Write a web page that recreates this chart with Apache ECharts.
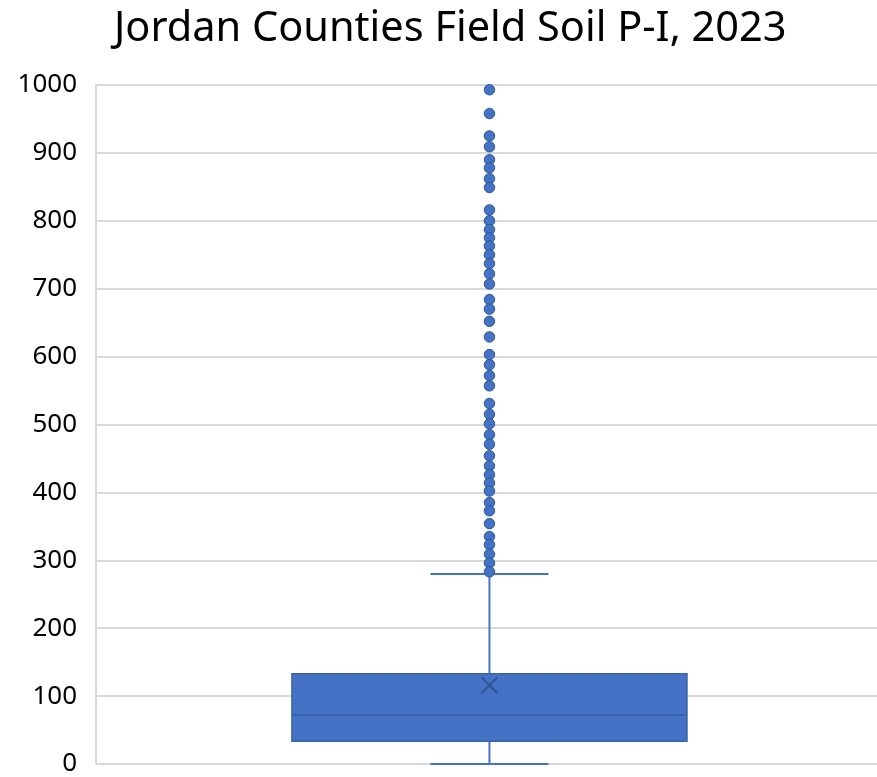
<!DOCTYPE html>
<html>
<head>
<meta charset="utf-8">
<script src="https://cdn.jsdelivr.net/npm/echarts@6/dist/echarts.min.js"></script>
<style>
  html, body { margin: 0; padding: 0; background: #fff; }
  #chart { width: 877px; height: 777px; }
</style>
</head>
<body>
<div id="chart"></div>
<script>
// Soil P-I summary for the Jordan counties, 2023
const categories = ['Field Soil P-I'];
// [lower whisker, Q1, median, Q3, upper whisker]
const boxStats = [0, 33.5, 72, 133, 280];
const meanValue = 116;
const outliers = [
  993, 958, 925, 909, 890, 878, 862, 849, 816, 800, 787, 775, 763, 750,
  737, 722, 707, 684, 670, 652, 629, 603, 588, 572, 557, 531, 515, 501,
  485, 471, 454, 439, 426, 414, 402, 385, 373, 354, 335, 323, 309, 296, 283
];
const yTicks = { min: 0, max: 1000, interval: 100 };

const BOX_FILL = '#4472C4';
const BOX_EDGE = '#3A63A8';
const LINE_COLOR = '#4472C4';
const MEAN_COLOR = '#2F5597';

// The single category sits at x = 0 on a hidden value axis; the plot
// area runs a little past the right edge of the canvas.
const X_RANGE = { min: -1, max: 0.985 };

const chart = echarts.init(document.getElementById('chart'), null, { renderer: 'canvas' });

function renderBox(params, api) {
  const xv = api.value(0);
  const lo = api.coord([xv, api.value(1)]);
  const q1 = api.coord([xv, api.value(2)]);
  const med = api.coord([xv, api.value(3)]);
  const q3 = api.coord([xv, api.value(4)]);
  const hi = api.coord([xv, api.value(5)]);
  const mean = api.coord([xv, api.value(6)]);
  const unit = api.size([1, 0])[0];
  const cx = lo[0];
  const halfBox = unit * 0.502;
  const halfCap = unit * 0.15;
  const m = 8;
  const lineStyle = { stroke: LINE_COLOR, lineWidth: 2 };
  return {
    type: 'group',
    children: [
      { type: 'line', shape: { x1: cx, y1: q1[1], x2: cx, y2: lo[1] }, style: lineStyle },
      { type: 'line', shape: { x1: cx, y1: q3[1], x2: cx, y2: hi[1] }, style: lineStyle },
      { type: 'line', shape: { x1: cx - halfCap, y1: lo[1], x2: cx + halfCap, y2: lo[1] }, style: lineStyle },
      { type: 'line', shape: { x1: cx - halfCap, y1: hi[1], x2: cx + halfCap, y2: hi[1] }, style: lineStyle },
      {
        type: 'rect',
        shape: { x: cx - halfBox, y: q3[1], width: halfBox * 2, height: q1[1] - q3[1] },
        style: { fill: BOX_FILL, stroke: BOX_EDGE, lineWidth: 1.5 }
      },
      { type: 'line', shape: { x1: cx - halfBox, y1: med[1], x2: cx + halfBox, y2: med[1] },
        style: { stroke: BOX_EDGE, lineWidth: 2 } },
      { type: 'line', shape: { x1: cx - m, y1: mean[1] - m, x2: cx + m, y2: mean[1] + m },
        style: { stroke: MEAN_COLOR, lineWidth: 2 } },
      { type: 'line', shape: { x1: cx - m, y1: mean[1] + m, x2: cx + m, y2: mean[1] - m },
        style: { stroke: MEAN_COLOR, lineWidth: 2 } }
    ]
  };
}

chart.setOption({
  animation: false,
  backgroundColor: '#ffffff',
  title: {
    text: 'Jordan Counties Field Soil P-I, 2023',
    left: 109,
    top: 3,
    textStyle: { fontFamily: 'Noto Sans', fontSize: 41.5, fontWeight: 'normal', color: '#000000' }
  },
  grid: { left: 96, right: 0, top: 85, bottom: 13, containLabel: false },
  xAxis: {
    type: 'value',
    min: X_RANGE.min,
    max: X_RANGE.max,
    axisLine: { show: false },
    axisTick: { show: false },
    axisLabel: { show: false },
    splitLine: { show: false }
  },
  yAxis: {
    type: 'value',
    min: yTicks.min,
    max: yTicks.max,
    interval: yTicks.interval,
    axisLine: { show: true, onZero: false, lineStyle: { color: '#D9D9D9', width: 2 } },
    axisTick: { show: false },
    axisLabel: {
      fontFamily: 'Noto Sans', fontSize: 26, color: '#000000', margin: 19,
      formatter: v => String(v)
    },
    splitLine: { show: true, lineStyle: { color: '#D9D9D9', width: 2 } }
  },
  series: [
    {
      type: 'custom',
      name: categories[0],
      renderItem: renderBox,
      encode: { x: 0, y: [1, 2, 3, 4, 5, 6] },
      data: [[0, ...boxStats, meanValue]],
      z: 2
    },
    {
      type: 'scatter',
      name: categories[0],
      data: outliers.map(v => [0, v]),
      symbol: 'circle',
      symbolSize: 10.5,
      itemStyle: { color: BOX_FILL, borderColor: '#2F5597', borderWidth: 1, opacity: 1 },
      z: 3
    }
  ]
});
</script>
</body>
</html>
